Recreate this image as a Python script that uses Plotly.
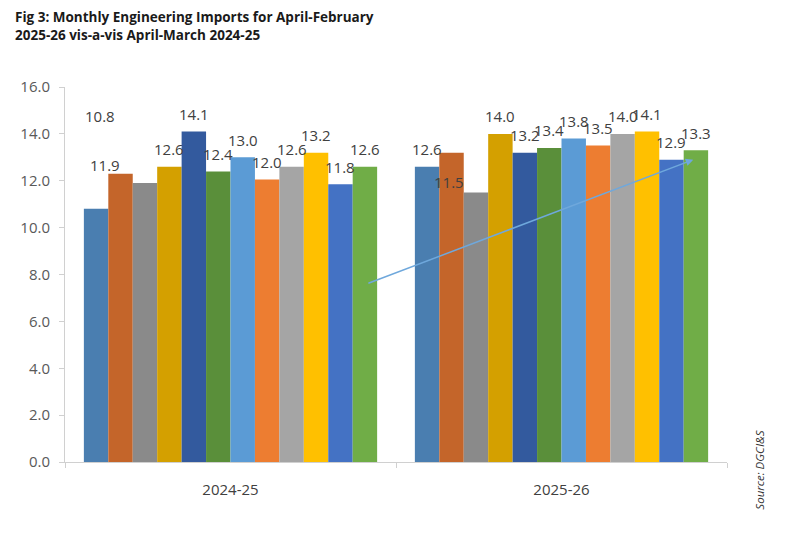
import plotly.graph_objects as go

# ---------------- data ----------------
years = ["2024-25", "2025-26"]
months = ["Apr", "May", "Jun", "Jul", "Aug", "Sep", "Oct", "Nov", "Dec", "Jan", "Feb", "Mar"]
imports_2024_25 = [10.8, 12.3, 11.9, 12.6, 14.1, 12.4, 13.0, 12.05, 12.6, 13.2, 11.85, 12.6]
imports_2025_26 = [12.6, 13.2, 11.5, 14.0, 13.2, 13.4, 13.8, 13.5, 14.0, 14.1, 12.9, 13.3]
labels_2024_25 = ["10.8", None, "11.9", "12.6", "14.1", "12.4", "13.0", "12.0", "12.6", "13.2", "11.8", "12.6"]
labels_2025_26 = ["12.6", None, "11.5", "14.0", "13.2", "13.4", "13.8", "13.5", "14.0", "14.1", "12.9", "13.3"]
y_ticks = [0, 2, 4, 6, 8, 10, 12, 14, 16]

# ---------------- styles ----------------
colors = ["#4a7eb0", "#c4652a", "#8a8a8a", "#d4a000", "#335a9e", "#5a8f3a",
          "#5b9bd5", "#ed7d31", "#a5a5a5", "#ffc000", "#4472c4", "#70ad47"]
BARGAP = 0.114
FONT = "Open Sans"
W, H = 798, 533
ML, MR, MT, MB = 65, 71, 87, 71
PW, PH = W - ML - MR, H - MT - MB

fig = go.Figure()
for i, m in enumerate(months):
    fig.add_trace(go.Bar(
        x=years, y=[imports_2024_25[i], imports_2025_26[i]], name=m,
        marker=dict(color=colors[i], line=dict(width=0)),
        showlegend=False, hoverinfo="x+y+name",
    ))

# data labels (with the original's displaced ones)
label_shift = {(0, 0): (4, 93), (0, 2): (-40, 18), (1, 2): (-27, 10)}
bw = (1 - BARGAP) / len(months)
annotations = []
for g, (vals, labs) in enumerate([(imports_2024_25, labels_2024_25), (imports_2025_26, labels_2025_26)]):
    for i, (v, t) in enumerate(zip(vals, labs)):
        if t is None:
            continue
        dx, dy = label_shift.get((g, i), (0, 17.5))
        annotations.append(dict(
            x=g + (i - (len(months) - 1) / 2) * bw, y=v, xref="x", yref="y",
            text=t, showarrow=False, xanchor="center", yanchor="middle",
            xshift=dx, yshift=dy,
            font=dict(family=FONT, size=15, color="#404040"),
        ))

# trend arrow
arrow_start = (0.412, 7.6)
arrow_end = (1.398, 12.9)
annotations.append(dict(
    x=arrow_end[0], y=arrow_end[1], ax=arrow_start[0], ay=arrow_start[1],
    xref="x", yref="y", axref="x", ayref="y", text="", showarrow=True,
    arrowhead=2, arrowsize=1, arrowwidth=1.5, arrowcolor="#6fa8dc",
))

# title
annotations.append(dict(
    x=(13 - ML) / PW, y=1 + (MT - 6) / PH, xref="paper", yref="paper",
    text="Fig 3: Monthly Engineering Imports for April-February<br>2025-26 vis-a-vis April-March 2024-25",
    showarrow=False, xanchor="left", yanchor="top", align="left",
    font=dict(family=FONT, size=13.5, color="#1a1a1a", weight="bold"),
))

# source
annotations.append(dict(
    x=1 + (760 - (W - MR)) / PW, y=-0.023, xref="paper", yref="paper", text="<i>Source: DGCI&S</i>",
    textangle=-90, showarrow=False, xanchor="center", yanchor="middle",
    font=dict(family=FONT, size=11.5, color="#333333"),
))

fig.update_layout(
    width=W, height=H,
    margin=dict(l=ML, r=MR, t=MT, b=MB),
    paper_bgcolor="white", plot_bgcolor="white",
    barmode="group", bargap=BARGAP, bargroupgap=0,
    annotations=annotations,
)
fig.update_yaxes(
    range=[0, 16], tickvals=y_ticks, tickformat=".1f",
    showline=True, linecolor="#d0d0d0", linewidth=1,
    ticks="outside", ticklen=5, tickcolor="#d0d0d0",
    showgrid=False, zeroline=False, ticklabelstandoff=6,
    tickfont=dict(family=FONT, size=15, color="#595959"),
)
fig.update_xaxes(
    showline=True, linecolor="#d0d0d0", linewidth=1,
    ticks="outside", ticklen=5, tickcolor="#d0d0d0", tickson="boundaries",
    showgrid=False, ticklabelstandoff=14,
    tickfont=dict(family=FONT, size=15, color="#404040"),
)

fig.write_html("out.html")
